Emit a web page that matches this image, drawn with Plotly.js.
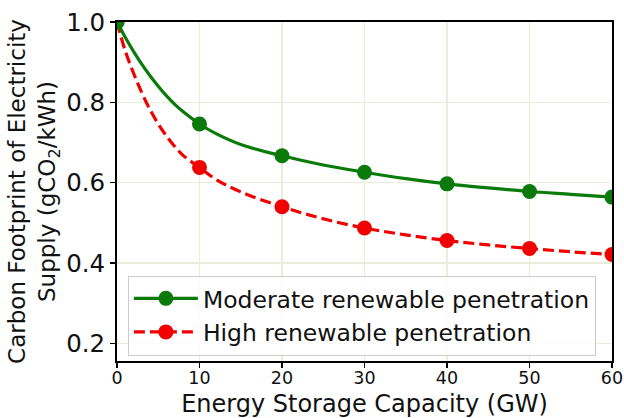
<!DOCTYPE html>
<html>
<head>
<meta charset="utf-8">
<script src="https://cdn.plot.ly/plotly-3.0.1.min.js"></script>
<style>html,body{margin:0;padding:0;background:#fff;}#chart{width:624px;height:418px;}</style>
</head>
<body>
<div id="chart"></div>
<script>
// Curve samples
var curveX = [0, 1, 2, 3, 4, 5, 6, 7, 8, 10, 12, 15, 20, 25, 30, 35, 40, 45, 50, 55, 60];
var moderateCurve = [1.0, 0.962, 0.927, 0.895, 0.866, 0.840, 0.816, 0.795, 0.777, 0.746, 0.722, 0.695, 0.667, 0.644, 0.626, 0.610, 0.597, 0.587, 0.578, 0.571, 0.564];
var highCurve = [1.0, 0.928, 0.873, 0.824, 0.782, 0.746, 0.716, 0.690, 0.668, 0.638, 0.608, 0.577, 0.540, 0.510, 0.487, 0.470, 0.456, 0.445, 0.436, 0.428, 0.421];
// Marker points
var markerX = [0, 10, 20, 30, 40, 50, 60];
var moderateMarkers = [1.0, 0.746, 0.667, 0.626, 0.597, 0.578, 0.564];
var highMarkers = [1.0, 0.638, 0.540, 0.487, 0.456, 0.436, 0.421];
var seriesNames = ["Moderate renewable penetration", "High renewable penetration"];
var xTicks = [0, 10, 20, 30, 40, 50, 60];
var yTicks = [0.2, 0.4, 0.6, 0.8, 1.0];
var yTickText = ["0.2", "0.4", "0.6", "0.8", "1.0"];

var green = "#0a7a0a", red = "#f20000";
var traces = [
  {x: curveX, y: highCurve, mode: "lines", line: {color: red, width: 3.2, dash: "11px,5px", shape: "spline"}, showlegend: false, hoverinfo: "skip"},
  {x: markerX, y: highMarkers, mode: "markers", marker: {color: red, size: 15}, showlegend: false},
  {x: curveX, y: moderateCurve, mode: "lines", line: {color: green, width: 3.2, shape: "spline"}, showlegend: false, hoverinfo: "skip"},
  {x: markerX, y: moderateMarkers, mode: "markers", marker: {color: green, size: 15}, showlegend: false},
  {x: [null], y: [null], name: seriesNames[0], mode: "lines+markers", line: {color: green, width: 3.2}, marker: {color: green, size: 15}},
  {x: [null], y: [null], name: seriesNames[1], mode: "lines+markers", line: {color: red, width: 3.2, dash: "11px,5px"}, marker: {color: red, size: 15}}
];

var font = "DejaVu Sans, sans-serif";
var layout = {
  width: 624, height: 418,
  margin: {l: 117, r: 12, t: 22, b: 57, pad: 0},
  paper_bgcolor: "#fff", plot_bgcolor: "#fff",
  font: {family: font, color: "#111", size: 23},
  showlegend: true,
  legend: {
    x: 0.022, y: 0.252, xanchor: "left", yanchor: "top",
    bgcolor: "rgba(255,255,255,0.85)", bordercolor: "#cccccc", borderwidth: 1,
    font: {family: font, size: 23.5, color: "#111"},
    itemwidth: 64, tracegroupgap: 0
  },
  xaxis: {
    range: [0, 60], tickvals: xTicks, ticktext: xTicks.map(String),
    showgrid: true, gridcolor: "#ececdc", gridwidth: 1.3,
    zeroline: false, showline: true, linecolor: "#000", linewidth: 2, mirror: true,
    ticks: "outside", ticklen: 5, tickwidth: 1.5, tickcolor: "#000",
    tickfont: {family: font, size: 17.5, color: "#111"},
    ticklabelstandoff: -5,
    title: {text: "Energy Storage Capacity (GW)", font: {family: font, size: 24, color: "#111"}, standoff: 8},
    automargin: false
  },
  yaxis: {
    range: [0.156, 1.0], tickvals: yTicks, ticktext: yTickText,
    showgrid: true, gridcolor: "#ececdc", gridwidth: 1.3,
    zeroline: false, showline: true, linecolor: "#000", linewidth: 2, mirror: true,
    ticks: "outside", ticklen: 5, tickwidth: 1.5, tickcolor: "#000",
    tickfont: {family: font, size: 24.5, color: "#111"},
    title: {text: "Carbon Footprint of Electricity<br>Supply (gCO<sub>2</sub>/kWh)", font: {family: font, size: 23, color: "#111"}, standoff: 4},
    automargin: false
  }
};
Plotly.newPlot("chart", traces, layout, {displayModeBar: false, staticPlot: true});
</script>
</body>
</html>
